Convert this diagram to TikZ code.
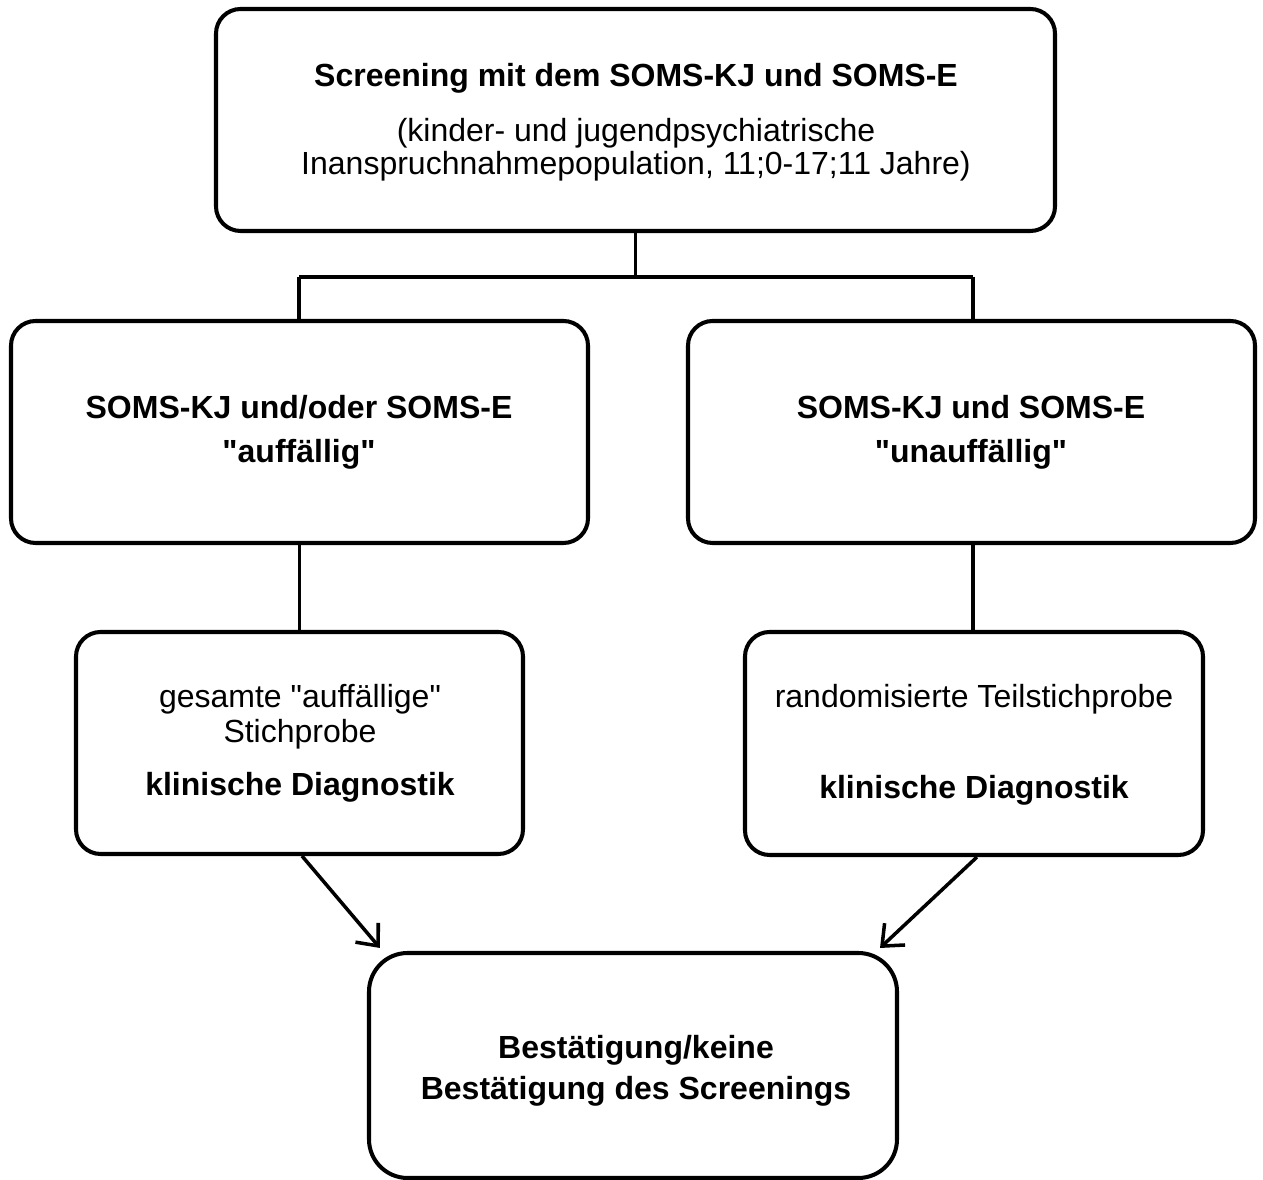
\documentclass[tikz,border=0pt]{standalone}
\usepackage{fontspec}
\setmainfont{Liberation Sans}[Ligatures=TeXOff]
\usetikzlibrary{arrows.meta}
\begin{document}
\begin{tikzpicture}[x=0.01cm,y=-0.01cm,
  box/.style={draw,line width=1.15pt,rounded corners=7pt,inner sep=0pt},
  txt/.style={anchor=base,inner sep=0pt,font=\fontsize{9.1}{9.5}\selectfont},
  btxt/.style={txt,font=\fontsize{9.1}{9.5}\selectfont\bfseries},
  conn/.style={line width=1pt},
  arr/.style={line width=1pt,-{Straight Barb[length=5pt,width=8.5pt,line width=1pt]}}]
\useasboundingbox (0,0) rectangle (1263,1180);
% boxes
\node[box,minimum width=839*0.01cm,minimum height=222*0.01cm] (top) at (635.5,120) {};
\node[box,minimum width=577*0.01cm,minimum height=222*0.01cm] (left) at (299.5,432) {};
\node[box,minimum width=567*0.01cm,minimum height=222*0.01cm] (right) at (971.5,432) {};
\node[box,minimum width=447*0.01cm,minimum height=222*0.01cm] (ll) at (299.5,743) {};
\node[box,minimum width=458*0.01cm,minimum height=223*0.01cm] (lr) at (974,743.5) {};
\node[box,rounded corners=11pt,minimum width=528*0.01cm,minimum height=225*0.01cm] (bot) at (633,1065.5) {};
% texts
\node[btxt] (t1) at (636,87) {Screening mit dem SOMS-KJ und SOMS-E};
\node[txt] (t2) at (636,142) {(kinder- und jugendpsychiatrische};
\node[txt] (t3) at (636,175) {Inanspruchnahmepopulation, 11;0-17;11 Jahre)};
\node[btxt] (l1) at (299,419) {SOMS-KJ und/oder SOMS-E};
\node[btxt] (l2) at (299,463) {"auffällig"};
\node[btxt] (r1) at (971,419) {SOMS-KJ und SOMS-E};
\node[btxt] (r2) at (971,463) {"unauffällig"};
\node[txt] (ll1) at (300,708) {gesamte "auffällige"};
\node[txt] (ll2) at (300,743) {Stichprobe};
\node[btxt] (ll3) at (300,796) {klinische Diagnostik};
\node[txt] (lr1) at (974,708) {randomisierte Teilstichprobe};
\node[btxt] (lr2) at (974,799) {klinische Diagnostik};
\node[btxt] (b1) at (636,1059) {Bestätigung/keine};
\node[btxt] (b2) at (636,1100) {Bestätigung des Screenings};
% connectors
\coordinate (jl) at (299,277);
\coordinate (jr) at (973,277);
\draw[conn] (top.south) -- (top.south |- jl);
\draw[conn] (jl) -- (jr);
\draw[conn] (jl) -- (jl |- left.north);
\draw[conn] (jr) -- (jr |- right.north);
\draw[conn] (left.south) -- (ll.north);
\draw[conn] (jr |- right.south) -- (jr |- lr.north);
\draw[arr] ([xshift=0.025cm]ll.south) -- ([shift={(13,-3)}]bot.north west);
\draw[arr] ([xshift=0.03cm]lr.south) -- ([shift={(-19,-3)}]bot.north east);
\end{tikzpicture}
\end{document}
